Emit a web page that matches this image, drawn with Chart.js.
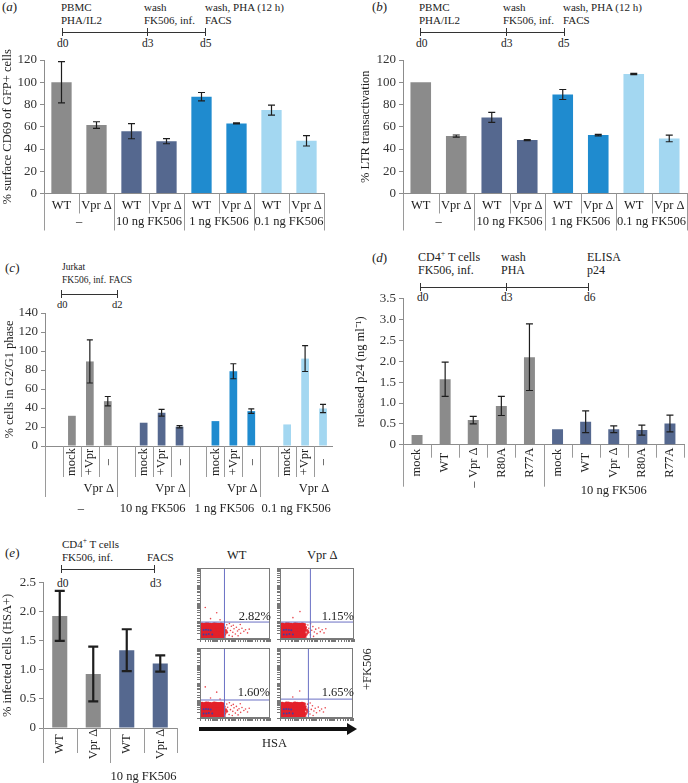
<!DOCTYPE html>
<html>
<head>
<meta charset="utf-8">
<script src="https://cdn.jsdelivr.net/npm/chart.js@4.4.1/dist/chart.umd.min.js"></script>
<style>
    html, body { margin: 0; padding: 0; background: #fff; }
    #fig { position: relative; width: 688px; height: 783px; overflow: hidden;
           font-family: "Liberation Serif", "Times New Roman", serif; color: #222; }
    .box { position: absolute; }
    .t { position: absolute; font-size: 11px; line-height: 13px; white-space: nowrap; }
    .d { position: absolute; font-size: 11.5px; line-height: 13px; white-space: nowrap; }
    .sm { font-size: 9.5px; line-height: 11px; }
    .md { font-size: 10.5px; line-height: 12px; }
    .lg { font-size: 12px; line-height: 14px; }
    .p { position: absolute; font-size: 13px; line-height: 14px; }
    .tl { position: absolute; height: 1.3px; background: #333; }
    .tk { position: absolute; width: 1.3px; height: 8px; background: #333; }
    .f { position: absolute; font-size: 12.5px; line-height: 14px; white-space: nowrap; }
</style>
</head>
<body>
<div id="fig">
    <!-- (a) timeline -->
    <div class="p" style="left:2px;top:0px">(<i>a</i>)</div>
    <div class="t" style="left:61px;top:1px">PBMC</div>
    <div class="t" style="left:61px;top:14px">PHA/IL2</div>
    <div class="t" style="left:144px;top:1px">wash</div>
    <div class="t" style="left:144px;top:14px">FK506, inf.</div>
    <div class="t" style="left:205px;top:1px">wash, PHA (12 h)</div>
    <div class="t" style="left:205px;top:14px">FACS</div>
    <div class="tl" style="left:63px;top:32px;width:143px"></div>
    <div class="tk" style="left:62px;top:28px"></div>
    <div class="tk" style="left:147px;top:28px"></div>
    <div class="tk" style="left:205px;top:28px"></div>
    <div class="d" style="left:57px;top:37px">d0</div>
    <div class="d" style="left:142px;top:37px">d3</div>
    <div class="d" style="left:200px;top:37px">d5</div>

    <!-- (b) timeline -->
    <div class="p" style="left:372px;top:0px">(<i>b</i>)</div>
    <div class="t" style="left:419px;top:1px">PBMC</div>
    <div class="t" style="left:419px;top:14px">PHA/IL2</div>
    <div class="t" style="left:503px;top:1px">wash</div>
    <div class="t" style="left:503px;top:14px">FK506, inf.</div>
    <div class="t" style="left:563px;top:1px">wash, PHA (12 h)</div>
    <div class="t" style="left:563px;top:14px">FACS</div>
    <div class="tl" style="left:421px;top:32px;width:144px"></div>
    <div class="tk" style="left:420px;top:28px"></div>
    <div class="tk" style="left:506px;top:28px"></div>
    <div class="tk" style="left:564px;top:28px"></div>
    <div class="d" style="left:416px;top:37px">d0</div>
    <div class="d" style="left:501px;top:37px">d3</div>
    <div class="d" style="left:558px;top:37px">d5</div>

    <!-- (c) timeline -->
    <div class="p" style="left:5px;top:261px">(<i>c</i>)</div>
    <div class="t sm" style="left:62px;top:262px">Jurkat</div>
    <div class="t sm" style="left:62px;top:275px">FK506, inf.</div>
    <div class="t sm" style="left:109px;top:275px">FACS</div>
    <div class="tl" style="left:62px;top:294px;width:56px"></div>
    <div class="tk" style="left:61px;top:290px"></div>
    <div class="tk" style="left:117px;top:290px"></div>
    <div class="d md" style="left:57px;top:299px">d0</div>
    <div class="d md" style="left:112px;top:299px">d2</div>

    <!-- (d) timeline -->
    <div class="p" style="left:372px;top:251px">(<i>d</i>)</div>
    <div class="t lg" style="left:418px;top:250px">CD4<sup style="font-size:8px;line-height:0">+</sup> T cells</div>
    <div class="t lg" style="left:418px;top:263px">FK506, inf.</div>
    <div class="t lg" style="left:501px;top:250px">wash</div>
    <div class="t lg" style="left:501px;top:263px">PHA</div>
    <div class="t lg" style="left:587px;top:250px">ELISA</div>
    <div class="t lg" style="left:587px;top:263px">p24</div>
    <div class="tl" style="left:421px;top:287px;width:168px"></div>
    <div class="tk" style="left:420px;top:283px"></div>
    <div class="tk" style="left:506px;top:283px"></div>
    <div class="tk" style="left:588px;top:283px"></div>
    <div class="d" style="left:417px;top:291px">d0</div>
    <div class="d" style="left:501px;top:291px">d3</div>
    <div class="d" style="left:584px;top:291px">d6</div>

    <!-- (e) timeline -->
    <div class="p" style="left:5px;top:546px">(<i>e</i>)</div>
    <div class="t" style="left:62px;top:538px">CD4<sup style="font-size:7.5px;line-height:0">+</sup> T cells</div>
    <div class="t" style="left:62px;top:551px">FK506, inf.</div>
    <div class="t" style="left:147px;top:551px">FACS</div>
    <div class="tl" style="left:62px;top:569px;width:93px"></div>
    <div class="tk" style="left:61px;top:565px"></div>
    <div class="tk" style="left:154px;top:565px"></div>
    <div class="d" style="left:57px;top:577px">d0</div>
    <div class="d" style="left:150px;top:577px">d3</div>

    <canvas id="ca" class="box" width="330" height="200" style="left:0px;top:40px"></canvas>
    <canvas id="cb" class="box" width="344" height="200" style="left:344px;top:40px"></canvas>
    <canvas id="cc" class="box" width="340" height="220" style="left:0px;top:300px"></canvas>
    <canvas id="cd" class="box" width="344" height="220" style="left:344px;top:288px"></canvas>
    <canvas id="ce" class="box" width="185" height="211" style="left:0px;top:572px"></canvas>

    <!-- (e) flow plots -->
    <div class="f" style="left:227px;top:548px">WT</div>
    <div class="f" style="left:307px;top:548px">Vpr Δ</div>
    <canvas id="f1" class="box" width="78" height="79" style="left:196px;top:564px"></canvas>
    <canvas id="f2" class="box" width="82" height="79" style="left:276px;top:564px"></canvas>
    <canvas id="f3" class="box" width="78" height="78" style="left:196px;top:644px"></canvas>
    <canvas id="f4" class="box" width="81" height="78" style="left:276px;top:644px"></canvas>
    <div class="f" style="right:417px;top:609px">2.82%</div>
    <div class="f" style="right:334px;top:609px">1.15%</div>
    <div class="f" style="right:418px;top:685px">1.60%</div>
    <div class="f" style="right:334px;top:685px">1.65%</div>
    <div class="f" style="left:360px;top:676px;transform:rotate(-90deg);transform-origin:7px 7px">+FK506</div>
    <div style="position:absolute;left:199px;top:727px;width:150px;height:4px;background:#111"></div>
    <div style="position:absolute;left:347px;top:723px;width:0;height:0;border-left:10px solid #111;border-top:6px solid transparent;border-bottom:6px solid transparent"></div>
    <div class="f" style="left:262px;top:736px">HSA</div>
</div>

<script>
    "use strict";

    // Data
    const GROUPS = ["–", "10 ng FK506", "1 ng FK506", "0.1 ng FK506"];
    const GROUP_COLORS = ["#8b8b8b", "#55688f", "#1f8bcf", "#a3d7f1"];

    // (a) % surface CD69 of GFP+ cells
    const A_LABELS = ["WT", "Vpr Δ", "WT", "Vpr Δ", "WT", "Vpr Δ", "WT", "Vpr Δ"];
    const A_VALUES = [100, 61.5, 56, 47, 87, 63, 75, 47.4];
    const A_ERRORS = [18.5, 3, 6.8, 2.3, 3.8, 0.5, 4.5, 4.7];

    // (b) % LTR transactivation
    const B_LABELS = ["WT", "Vpr Δ", "WT", "Vpr Δ", "WT", "Vpr Δ", "WT", "Vpr Δ"];
    const B_VALUES = [100, 51.6, 68.4, 48, 89, 52.5, 107.4, 49.5];
    const B_ERRORS = [0, 1, 4.5, 0.5, 4.5, 0.7, 0.6, 3];

    // (c) % cells in G2/G1 phase
    const C_LABELS = ["mock", "+Vpr", "–"];
    const C_MOCK = [31.8, 24.5, 26.2, 22.7];
    const C_VPR = [89, 35, 78.7, 92];
    const C_VPR_ERR = [22.7, 3.5, 7.9, 13.6];
    const C_DEL = [47.2, 20.3, 36.7, 39.5];
    const C_DEL_ERR = [4.9, 1.2, 2.3, 4.4];

    // (d) released p24 (ng/ml)
    const D_LABELS = ["mock", "WT", "Vpr Δ", "R80A", "R77A", "mock", "WT", "Vpr Δ", "R80A", "R77A"];
    const D_GROUPS = ["–", "10 ng FK506"];
    const D_VALUES = [0.23, 1.57, 0.59, 0.93, 2.1, 0.37, 0.55, 0.37, 0.35, 0.51];
    const D_ERRORS = [0, 0.41, 0.09, 0.23, 0.8, 0, 0.26, 0.08, 0.12, 0.2];

    // (e) % infected cells (HSA+)
    const E_LABELS = ["WT", "Vpr Δ", "WT", "Vpr Δ"];
    const E_GROUPS = ["", "10 ng FK506"];
    const E_VALUES = [1.93, 0.93, 1.34, 1.11];
    const E_ERRORS = [0.43, 0.47, 0.36, 0.14];

    // FACS dot plots (HSA vs. side channel, log units)
    const FLOW_CORE = [
        { x: 1.3, y: 1.4 }, { x: 2.2, y: 1.3 }, { x: 3.8, y: 1.5 }, { x: 6.5, y: 1.4 }, { x: 11, y: 1.4 }, { x: 18, y: 1.5 },
        { x: 1.2, y: 2.3 }, { x: 2.1, y: 2.4 }, { x: 3.6, y: 2.2 }, { x: 6.2, y: 2.4 }, { x: 10, y: 2.3 }, { x: 17, y: 2.2 },
        { x: 1.4, y: 3.7 }, { x: 2.4, y: 3.9 }, { x: 4, y: 3.6 }, { x: 7, y: 3.8 }, { x: 12, y: 3.7 }, { x: 19, y: 3.5 },
        { x: 1.3, y: 5.8 }, { x: 2.3, y: 6 }, { x: 3.9, y: 5.6 }, { x: 6.6, y: 5.9 }, { x: 11, y: 5.5 }, { x: 16, y: 5.7 },
    ];
    const FLOW_EDGE = [
        { x: 26, y: 1.8 }, { x: 30, y: 3 }, { x: 24, y: 4.6 }, { x: 33, y: 2.4 }, { x: 22, y: 6.6 },
        { x: 9, y: 7 }, { x: 3, y: 7.2 },
    ];
    const FLOW_MARKS = [
        { x: 1.6, y: 3.2 }, { x: 2.2, y: 3.3 }, { x: 3, y: 3.2 }, { x: 4.1, y: 3.1 },
        { x: 1.6, y: 1.8 }, { x: 2.3, y: 1.8 }, { x: 3.2, y: 1.9 }, { x: 5, y: 1.8 },
    ];
    const FLOW_SPARSE_WT = [
        { x: 30, y: 2.2 }, { x: 38, y: 4.1 }, { x: 46, y: 1.6 }, { x: 55, y: 3 }, { x: 62, y: 5.2 },
        { x: 75, y: 2.4 }, { x: 88, y: 3.8 }, { x: 105, y: 1.9 }, { x: 120, y: 4.6 }, { x: 140, y: 2.8 },
        { x: 170, y: 3.4 }, { x: 210, y: 2.1 }, { x: 250, y: 4 }, { x: 320, y: 2.7 }, { x: 400, y: 3.3 },
        { x: 520, y: 2.2 }, { x: 650, y: 3.6 }, { x: 34, y: 6.3 }, { x: 48, y: 7.5 }, { x: 80, y: 6 },
        { x: 28, y: 1.3 }, { x: 70, y: 1.4 }, { x: 150, y: 1.5 }, { x: 4, y: 14 }, { x: 9, y: 30 },
        { x: 2, y: 60 }, { x: 14, y: 12 }, { x: 200, y: 6.5 },
    ];
    const FLOW_SPARSE_VPR = [
        { x: 30, y: 2 }, { x: 36, y: 4 }, { x: 44, y: 1.7 }, { x: 52, y: 3.1 }, { x: 60, y: 5 },
        { x: 72, y: 2.5 }, { x: 85, y: 3.6 }, { x: 100, y: 2 }, { x: 125, y: 4.2 }, { x: 150, y: 2.6 },
        { x: 190, y: 3.3 }, { x: 240, y: 2.2 }, { x: 300, y: 3.8 }, { x: 32, y: 6.2 }, { x: 45, y: 7.2 },
        { x: 26, y: 1.3 }, { x: 65, y: 1.4 }, { x: 5, y: 16 }, { x: 12, y: 35 },
    ];

    Chart.defaults.font.family = '"Liberation Serif", "Times New Roman", serif';
    Chart.defaults.color = "#222";

    // error bars drawn from dataset.errors
    const errorBars = {
        id: "errorBars",
        afterDatasetsDraw(chart) {
            const ds = chart.data.datasets[0];
            const st = chart.options.errStyle;
            const y = chart.scales.y;
            const ctx = chart.ctx;
            ctx.save();
            ctx.strokeStyle = "#1e1e1e";
            ctx.lineWidth = st.width;
            chart.getDatasetMeta(0).data.forEach((bar, i) => {
                const v = ds.data[i];
                const e = ds.errors[i];
                if (v == null || !e) return;
                const top = y.getPixelForValue(v + e);
                const bot = y.getPixelForValue(v - e);
                ctx.beginPath();
                ctx.moveTo(bar.x, top);
                ctx.lineTo(bar.x, bot);
                ctx.moveTo(bar.x - st.cap, top);
                ctx.lineTo(bar.x + st.cap, top);
                ctx.moveTo(bar.x - st.cap, bot);
                ctx.lineTo(bar.x + st.cap, bot);
                ctx.stroke();
            });
            ctx.restore();
        },
    };

    // category table under the x axis
    function tablePlugin(spec) {
        return {
            id: "catTable",
            afterDraw(chart) {
                const ctx = chart.ctx;
                const xs = chart.scales.x;
                const base = chart.chartArea.bottom;
                const w = xs.getPixelForValue(1) - xs.getPixelForValue(0);
                const edge = (b) => xs.getPixelForValue(0) - w / 2 + b * w;
                ctx.save();
                ctx.strokeStyle = "#9a9a9a";
                ctx.lineWidth = 1;
                spec.lines.forEach(([b, len]) => {
                    const x = Math.round(edge(b)) + 0.5;
                    ctx.beginPath();
                    ctx.moveTo(x, base);
                    ctx.lineTo(x, base + len);
                    ctx.stroke();
                });
                ctx.fillStyle = "#222";
                ctx.font = '12.5px "Liberation Serif", "Times New Roman", serif';
                ctx.textBaseline = "middle";
                ctx.textAlign = "center";
                spec.labels.forEach(([from, to, text, off, rot]) => {
                    ctx.save();
                    ctx.translate((edge(from) + edge(to + 1)) / 2, base + off);
                    if (rot) ctx.rotate(-Math.PI / 2);
                    ctx.fillText(text, 0, 0);
                    ctx.restore();
                });
                ctx.restore();
            },
        };
    }

    function barChart(id, cfg) {
        return new Chart(document.getElementById(id), {
            type: "bar",
            data: {
                labels: cfg.labels,
                datasets: [
                    {
                        data: cfg.values,
                        errors: cfg.errors,
                        backgroundColor: cfg.colors,
                        barPercentage: cfg.barPct,
                        categoryPercentage: 1,
                    },
                ],
            },
            options: {
                responsive: false,
                animation: false,
                errStyle: cfg.err,
                layout: { padding: cfg.pad },
                plugins: {
                    legend: { display: false },
                    tooltip: { enabled: false },
                },
                scales: {
                    x: {
                        ticks: { display: false },
                        grid: { display: false },
                        border: { color: "#8c8c8c" },
                        afterFit: (s) => { s.height = 0; },
                    },
                    y: {
                        min: 0,
                        max: cfg.max,
                        ticks: {
                            stepSize: cfg.step,
                            padding: 3,
                            color: "#333",
                            font: { size: 13 },
                            callback: cfg.fmt,
                        },
                        grid: { drawOnChartArea: false, tickLength: 4, color: "#8c8c8c" },
                        border: { color: "#8c8c8c" },
                        title: {
                            display: true,
                            text: cfg.title,
                            color: "#222",
                            font: { size: 12.5 },
                            padding: { top: cfg.titlePad, bottom: 0 },
                        },
                        afterFit: (s) => { s.width = cfg.axisW; },
                    },
                },
            },
            plugins: [errorBars, tablePlugin(cfg.table)],
        });
    }

    const oneDecimal = (v) => (v === 0 ? "0" : v.toFixed(1));

    // (a) and (b) share the same table layout
    function pairTable(labels) {
        const lines = [];
        const cells = [];
        for (let b = 0; b <= labels.length; b++) lines.push([b, b % 2 === 0 ? 37 : 20]);
        labels.forEach((t, i) => cells.push([i, i, t, 12, false]));
        GROUPS.forEach((g, k) => cells.push([2 * k, 2 * k + 1, g, 28, false]));
        return { lines, labels: cells };
    }
    const pairColors = A_LABELS.map((_, i) => GROUP_COLORS[Math.floor(i / 2)]);

    barChart("ca", {
        labels: A_LABELS, values: A_VALUES, errors: A_ERRORS, colors: pairColors,
        barPct: 0.58, max: 120, step: 20, title: "% surface CD69 of GFP+ cells",
        titlePad: 0, axisW: 44, pad: { left: 0, top: 20, right: 6, bottom: 46.5 },
        err: { width: 1.2, cap: 3.5 }, table: pairTable(A_LABELS),
    });

    barChart("cb", {
        labels: B_LABELS, values: B_VALUES, errors: B_ERRORS, colors: pairColors,
        barPct: 0.58, max: 120, step: 20, title: "% LTR transactivation",
        titlePad: 14, axisW: 59, pad: { left: 0, top: 20, right: 1, bottom: 46.5 },
        err: { width: 1.2, cap: 3.5 }, table: pairTable(B_LABELS),
    });

    // (c): four groups of [empty, mock, +Vpr, –]
    const cLabels = [], cValues = [], cErrors = [], cColors = [];
    GROUPS.forEach((g, k) => {
        cLabels.push("", ...C_LABELS);
        cValues.push(null, C_MOCK[k], C_VPR[k], C_DEL[k]);
        cErrors.push(0, 0, C_VPR_ERR[k], C_DEL_ERR[k]);
        cColors.push(GROUP_COLORS[k], GROUP_COLORS[k], GROUP_COLORS[k], GROUP_COLORS[k]);
    });
    const cTable = { lines: [], labels: [] };
    GROUPS.forEach((g, k) => {
        const s = 4 * k;
        cTable.lines.push([s, 51], [s + 1, 31], [s + 2, 31], [s + 3, 31]);
        C_LABELS.forEach((t, j) => cTable.labels.push([s + 1 + j, s + 1 + j, t, 16, true]));
        cTable.labels.push([s + 2, s + 3, "Vpr Δ", 43, false]);
        cTable.labels.push([s, s + 3, g, 63, false]);
    });
    barChart("cc", {
        labels: cLabels, values: cValues, errors: cErrors, colors: cColors,
        barPct: 0.43, max: 140, step: 20, title: "% cells in G2/G1 phase",
        titlePad: 2, axisW: 45, pad: { left: 0, top: 13, right: 8, bottom: 74 },
        err: { width: 1.2, cap: 3 }, table: cTable,
    });

    // (d)
    const dTable = { lines: [], labels: [] };
    D_LABELS.forEach((t, i) => {
        dTable.lines.push([i, i % 5 === 0 ? 42 : 13]);
        dTable.labels.push([i, i, t, 18, true]);
    });
    dTable.lines.push([D_LABELS.length, 13]);
    dTable.labels.push([0, 4, D_GROUPS[0], 40, true]);
    dTable.labels.push([5, 9, D_GROUPS[1], 46, false]);
    barChart("cd", {
        labels: D_LABELS, values: D_VALUES, errors: D_ERRORS,
        colors: D_LABELS.map((_, i) => GROUP_COLORS[i < 5 ? 0 : 1]),
        barPct: 0.39, max: 3.5, step: 0.5, fmt: oneDecimal, title: "released p24 (ng ml⁻¹)",
        titlePad: 9, axisW: 59, pad: { left: 0, top: 10.4, right: 4, bottom: 63.3 },
        err: { width: 1.2, cap: 3.5 }, table: dTable,
    });

    // (e)
    const eTable = {
        lines: [[0, 35], [1, 25], [2, 35], [3, 25], [4, 25]],
        labels: E_LABELS.map((t, i) => [i, i, t, 16, true]).concat([[2, 3, E_GROUPS[1], 49, false]]),
    };
    barChart("ce", {
        labels: E_LABELS, values: E_VALUES, errors: E_ERRORS,
        colors: E_LABELS.map((_, i) => GROUP_COLORS[i < 2 ? 0 : 1]),
        barPct: 0.45, max: 2.5, step: 0.5, fmt: oneDecimal, title: "% infected cells (HSA+)",
        titlePad: 0, axisW: 43, pad: { left: 0, top: 10, right: 8, bottom: 55 },
        err: { width: 2.2, cap: 5 }, table: eTable,
    });

    // FACS plots
    const frame = {
        id: "frame",
        afterDraw(chart) {
            const a = chart.chartArea;
            const ctx = chart.ctx;
            ctx.save();
            ctx.strokeStyle = "#7a7a7a";
            ctx.lineWidth = 1;
            ctx.strokeRect(a.left + 0.5, a.top + 0.5, a.right - a.left - 1, a.bottom - a.top - 1);
            ctx.restore();
        },
    };

    function flowChart(id, gateX, gateY, sparse) {
        const logAxis = (size) => ({
            type: "logarithmic",
            min: 1,
            max: 10000,
            ticks: { display: false },
            grid: { drawOnChartArea: false, tickLength: 3, color: "#777" },
            border: { color: "#777" },
            afterFit: size,
        });
        return new Chart(document.getElementById(id), {
            type: "scatter",
            data: {
                datasets: [
                    { data: FLOW_MARKS, pointRadius: 1, backgroundColor: "#4a3c9c", borderWidth: 0 },
                    {
                        data: [{ x: gateX, y: 1 }, { x: gateX, y: 10000 }],
                        showLine: true, borderColor: "#6a70c4", borderWidth: 1, pointRadius: 0,
                    },
                    {
                        data: [{ x: 1, y: gateY }, { x: 10000, y: gateY }],
                        showLine: true, borderColor: "#6a70c4", borderWidth: 1, pointRadius: 0,
                    },
                    { data: FLOW_CORE, pointRadius: 3, backgroundColor: "#e3202a", borderWidth: 0 },
                    { data: FLOW_EDGE, pointRadius: 1.5, backgroundColor: "#e8383f", borderWidth: 0 },
                    { data: sparse, pointRadius: 0.8, backgroundColor: "#e8474e", borderWidth: 0 },
                ],
            },
            options: {
                responsive: false,
                animation: false,
                layout: { padding: { top: 1, right: 1 } },
                plugins: { legend: { display: false }, tooltip: { enabled: false } },
                scales: {
                    x: logAxis((s) => { s.height = 3; }),
                    y: logAxis((s) => { s.width = 3; }),
                },
            },
            plugins: [frame],
        });
    }

    flowChart("f1", 25, 9, FLOW_SPARSE_WT);
    flowChart("f2", 44, 9, FLOW_SPARSE_VPR);
    flowChart("f3", 25, 10.7, FLOW_SPARSE_WT);
    flowChart("f4", 36, 12, FLOW_SPARSE_VPR);
</script>
</body>
</html>
